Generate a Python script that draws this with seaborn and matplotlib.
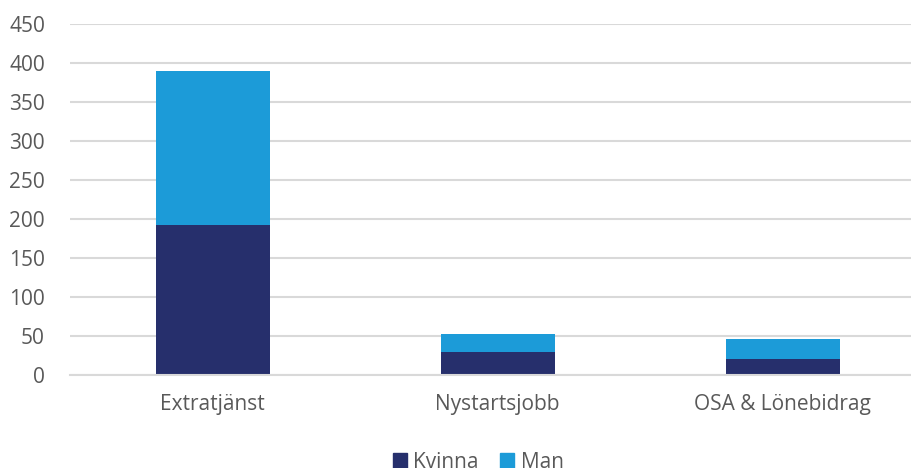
import pandas as pd
import numpy as np
import matplotlib.pyplot as plt
import seaborn as sns
from matplotlib.patches import Patch

# Data
kategorier = ["Extratjänst", "Nystartsjobb", "OSA & Lönebidrag"]
kvinna = [192, 30, 21]
man = [198, 23, 25]

df = pd.DataFrame({"Kategori": kategorier, "Kvinna": kvinna, "Man": man})
df["Totalt"] = df["Kvinna"] + df["Man"]

sns.set_style("white")
plt.rcParams["font.family"] = ["Open Sans", "DejaVu Sans"]

c_kvinna = "#262F6C"
c_man = "#1C9BD8"
grid_c = "#D9D9D9"
text_c = "#595959"
fs = 15

fig = plt.figure(figsize=(9.11, 4.68), dpi=100)
ax = fig.add_axes([70 / 911, 93 / 468, 855 / 911, 351 / 468])

# Staplade staplar: totalen i Man-färg, Kvinna ovanpå
sns.barplot(data=df, x="Kategori", y="Totalt", color=c_man, width=0.4,
            saturation=1, linewidth=0, ax=ax)
sns.barplot(data=df, x="Kategori", y="Kvinna", color=c_kvinna, width=0.4,
            saturation=1, linewidth=0, ax=ax)

ax.set_ylim(0, 450)
ax.set_xlim(-0.5, 2.5)
ax.set_yticks(np.arange(0, 451, 50))
ax.yaxis.grid(True, color=grid_c, linewidth=1.5)
ax.set_axisbelow(True)
for s in ["top", "right", "left"]:
    ax.spines[s].set_visible(False)
ax.spines["bottom"].set_color(grid_c)
ax.spines["bottom"].set_linewidth(1.5)
ax.set_xlabel("")
ax.set_ylabel("")
ax.tick_params(axis="y", length=0, pad=18, labelsize=fs, labelcolor=text_c)
ax.tick_params(axis="x", length=0, pad=14, labelsize=fs, labelcolor=text_c)

handles = [Patch(color=c_kvinna, label="Kvinna"), Patch(color=c_man, label="Man")]
fig.legend(handles=handles, loc="center", bbox_to_anchor=(478 / 911, 6 / 468),
           ncol=2, frameon=False, fontsize=fs, labelcolor=text_c,
           handlelength=0.7, handleheight=0.7, handletextpad=0.3, columnspacing=1.0)

fig.savefig("out.png", dpi=100)
